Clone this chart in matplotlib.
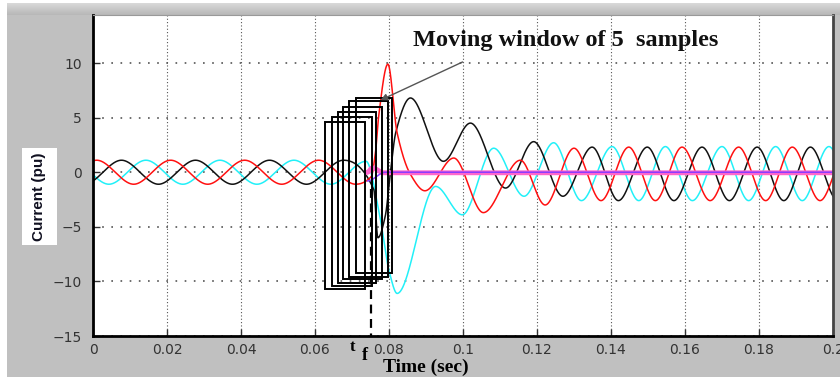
import numpy as np
import matplotlib
matplotlib.use("Agg")
import matplotlib.pyplot as plt
from matplotlib.patches import Rectangle

# ---- data: (time in s, current in pu) at turning points ----
red_t = [-0.009, 0.001, 0.011, 0.021, 0.031, 0.041, 0.051, 0.061, 0.071,
         0.0752, 0.0764, 0.0772, 0.0797, 0.0822, 0.0858, 0.0897, 0.0975, 0.1055,
         0.1155, 0.1222, 0.130, 0.1373, 0.1448, 0.152, 0.1592, 0.1668, 0.1745,
         0.1818, 0.189, 0.1965, 0.204]
red_v = [-1.1, 1.1, -1.1, 1.1, -1.1, 1.1, -1.1, 1.1, -1.1,
         -0.4, 2.0, 5.1, 9.9, 3.6, -0.2, -1.7, 1.3, -3.7,
         1.1, -3.0, 2.2, -2.6, 2.3, -2.6, 2.3, -2.6, 2.3,
         -2.6, 2.3, -2.6, 2.3]

black_t = [-0.0023, 0.0077, 0.0177, 0.0277, 0.0377, 0.0477, 0.0577, 0.0677,
           0.0759, 0.0770, 0.0790, 0.0804, 0.0818, 0.0858, 0.0947, 0.102, 0.1115,
           0.1191, 0.127, 0.1349, 0.142, 0.1498, 0.157, 0.1646, 0.172, 0.1795,
           0.1867, 0.1939, 0.2013]
black_v = [-1.1, 1.1, -1.1, 1.1, -1.1, 1.1, -1.1, 1.1,
           -1.6, -6.0, -4.0, 0.0, 3.6, 6.8, 1.0, 4.5, -1.45,
           2.8, -2.2, 2.3, -2.6, 2.3, -2.6, 2.3, -2.6, 2.3,
           -2.6, 2.3, -2.6]

cyan_t = [-0.0057, 0.0043, 0.0143, 0.0243, 0.0343, 0.0443, 0.0543, 0.0643,
          0.0738, 0.0775, 0.0800, 0.0822, 0.0926, 0.0998, 0.1083, 0.1165, 0.1245,
          0.132, 0.1403, 0.1475, 0.1547, 0.162, 0.170, 0.1772, 0.1845, 0.1917,
          0.1989, 0.206]
cyan_v = [1.1, -1.1, 1.1, -1.1, 1.1, -1.1, 1.1, -1.1,
          1.0, -4.0, -9.0, -11.1, -1.3, -3.9, 2.2, -2.2, 2.7,
          -2.6, 2.35, -2.6, 2.35, -2.6, 2.35, -2.6, 2.35, -2.6,
          2.35, -2.6]

pink_t = [0.0742, 0.0755, 0.0785, 0.2]
pink_v = [0.0, 0.4, -0.05, -0.05]
purple_t = [0.0742, 0.0790, 0.2]
purple_v = [-0.8, 0.0, 0.0]

# moving windows (time, pu)
win_left = [0.0626, 0.0645, 0.0661, 0.0677, 0.0693, 0.0712]
win_right = [0.0734, 0.0753, 0.0766, 0.0780, 0.0796, 0.0809]
win_top = [4.6, 5.1, 5.55, 6.0, 6.5, 6.8]
win_bottom = [-10.7, -10.4, -10.15, -9.8, -9.6, -9.2]

t_fault = 0.075
xticks = [0, 0.02, 0.04, 0.06, 0.08, 0.1, 0.12, 0.14, 0.16, 0.18, 0.2]
xticklabels = ["0", "0.02", "0.04", "0.06", "0.08", "0.1", "0.12", "0.14", "0.16", "0.18", "0.2"]
yticks = [-15, -10, -5, 0, 5, 10]


def smooth(x, y, xs):
    # monotone cubic through the read points (keeps turning points flat)
    x = np.asarray(x, float); y = np.asarray(y, float)
    h = np.diff(x); d = np.diff(y) / h
    m = np.zeros_like(y)
    for k in range(1, len(x) - 1):
        if d[k - 1] * d[k] > 0:
            w1 = 2 * h[k] + h[k - 1]; w2 = h[k] + 2 * h[k - 1]
            m[k] = (w1 + w2) / (w1 / d[k - 1] + w2 / d[k])
    i = np.clip(np.searchsorted(x, xs) - 1, 0, len(h) - 1)
    s = (xs - x[i]) / h[i]
    return ((2 * s**3 - 3 * s**2 + 1) * y[i] + (s**3 - 2 * s**2 + s) * h[i] * m[i]
            + (-2 * s**3 + 3 * s**2) * y[i + 1] + (s**3 - s**2) * h[i] * m[i + 1])


fig = plt.figure(figsize=(8.4, 3.82), dpi=100)
fig.patch.set_facecolor("white")

# grey window background + lighter band on top
bg = fig.add_axes([7 / 840, 5 / 382, 833 / 840, 364 / 382])
bg.set_facecolor("#c0c0c0"); bg.set_xticks([]); bg.set_yticks([])
for sp in bg.spines.values():
    sp.set_visible(False)
band = fig.add_axes([7 / 840, 367 / 382, 833 / 840, 12 / 382])
band.imshow(np.linspace(0.86, 0.72, 20).reshape(-1, 1), cmap="gray", vmin=0, vmax=1,
            aspect="auto", extent=[0, 1, 0, 1])
band.axis("off")

ax = fig.add_axes([93 / 840, 46 / 382, 740 / 840, 321 / 382])
ax.set_facecolor("white")

ts = np.linspace(0, 0.2, 4000)
ax.plot(ts, smooth(cyan_t, cyan_v, ts), color="#22f0f8", lw=1.1)
ax.plot(ts, smooth(black_t, black_v, ts), color="#111111", lw=1.1)
ax.plot(ts, smooth(red_t, red_v, ts), color="#ff1010", lw=1.1)
tp = np.linspace(pink_t[0], 0.2, 800)
ax.plot(tp, smooth(pink_t, pink_v, tp), color="#ff66cc", lw=3.5)
tq = np.linspace(purple_t[0], 0.2, 800)
ax.plot(tq, smooth(purple_t, purple_v, tq), color="#8a3cff", lw=1.1)

for l, r, b, t in zip(win_left, win_right, win_bottom, win_top):
    ax.add_patch(Rectangle((l, b), r - l, t - b, fill=False, ec="black", lw=1.4, zorder=4))

ax.plot([t_fault, t_fault], [-1.5, -15], color="black", lw=1.6, ls=(0, (4, 2.5)), zorder=5)

ax.set_xlim(0, 0.2)
ax.set_ylim(-15, 14.4)
ax.set_xticks(xticks)
ax.set_xticklabels(xticklabels)
ax.set_yticks(yticks)
ax.tick_params(direction="in", length=5, width=1, colors="#333333", labelsize=10)
ax.tick_params(axis="x", pad=5)
ax.tick_params(axis="y", pad=8)
ax.xaxis.grid(True, color="#555555", ls=(0, (1, 2)), lw=0.8)
ax.yaxis.grid(True, color="#555555", ls=(0, (1, 4.5)), lw=1.2)
ax.spines["left"].set_linewidth(2)
ax.spines["bottom"].set_linewidth(2)
ax.spines["right"].set_linewidth(2)
ax.spines["right"].set_color("#444444")
ax.spines["top"].set_color("#999999")

ax.annotate("", xy=(0.0777, 6.6), xytext=(0.0999, 10.1),
            arrowprops=dict(arrowstyle="-|>", color="#555555", lw=1, mutation_scale=10,
                            shrinkA=0, shrinkB=0), zorder=6)
ax.text(0.0866, 12.1, "Moving window of 5  samples", family="Liberation Serif",
        fontweight="bold", fontsize=17.5, ha="left", va="center", color="#111111")

# y label in its white box
fig.patches.append(Rectangle((22 / 840, 137 / 382), 35 / 840, 97 / 382, transform=fig.transFigure,
                             facecolor="white", edgecolor="none", figure=fig))
fig.text(39.5 / 840, 185.5 / 382, "Current (pu)", rotation=90, ha="center", va="center",
         family="Liberation Sans", fontweight="bold", fontsize=11, color="#101020")

fig.text(426 / 840, 15 / 382, "Time (sec)", ha="center", va="center", family="Liberation Serif",
         fontweight="bold", fontsize=14)
fig.text(352 / 840, 35 / 382, "t", ha="center", va="center", family="Liberation Serif",
         fontweight="bold", fontsize=12)
fig.text(365 / 840, 26 / 382, "f", ha="center", va="center", family="Liberation Serif",
         fontweight="bold", fontsize=13)

fig.savefig("out.png", dpi=100)
